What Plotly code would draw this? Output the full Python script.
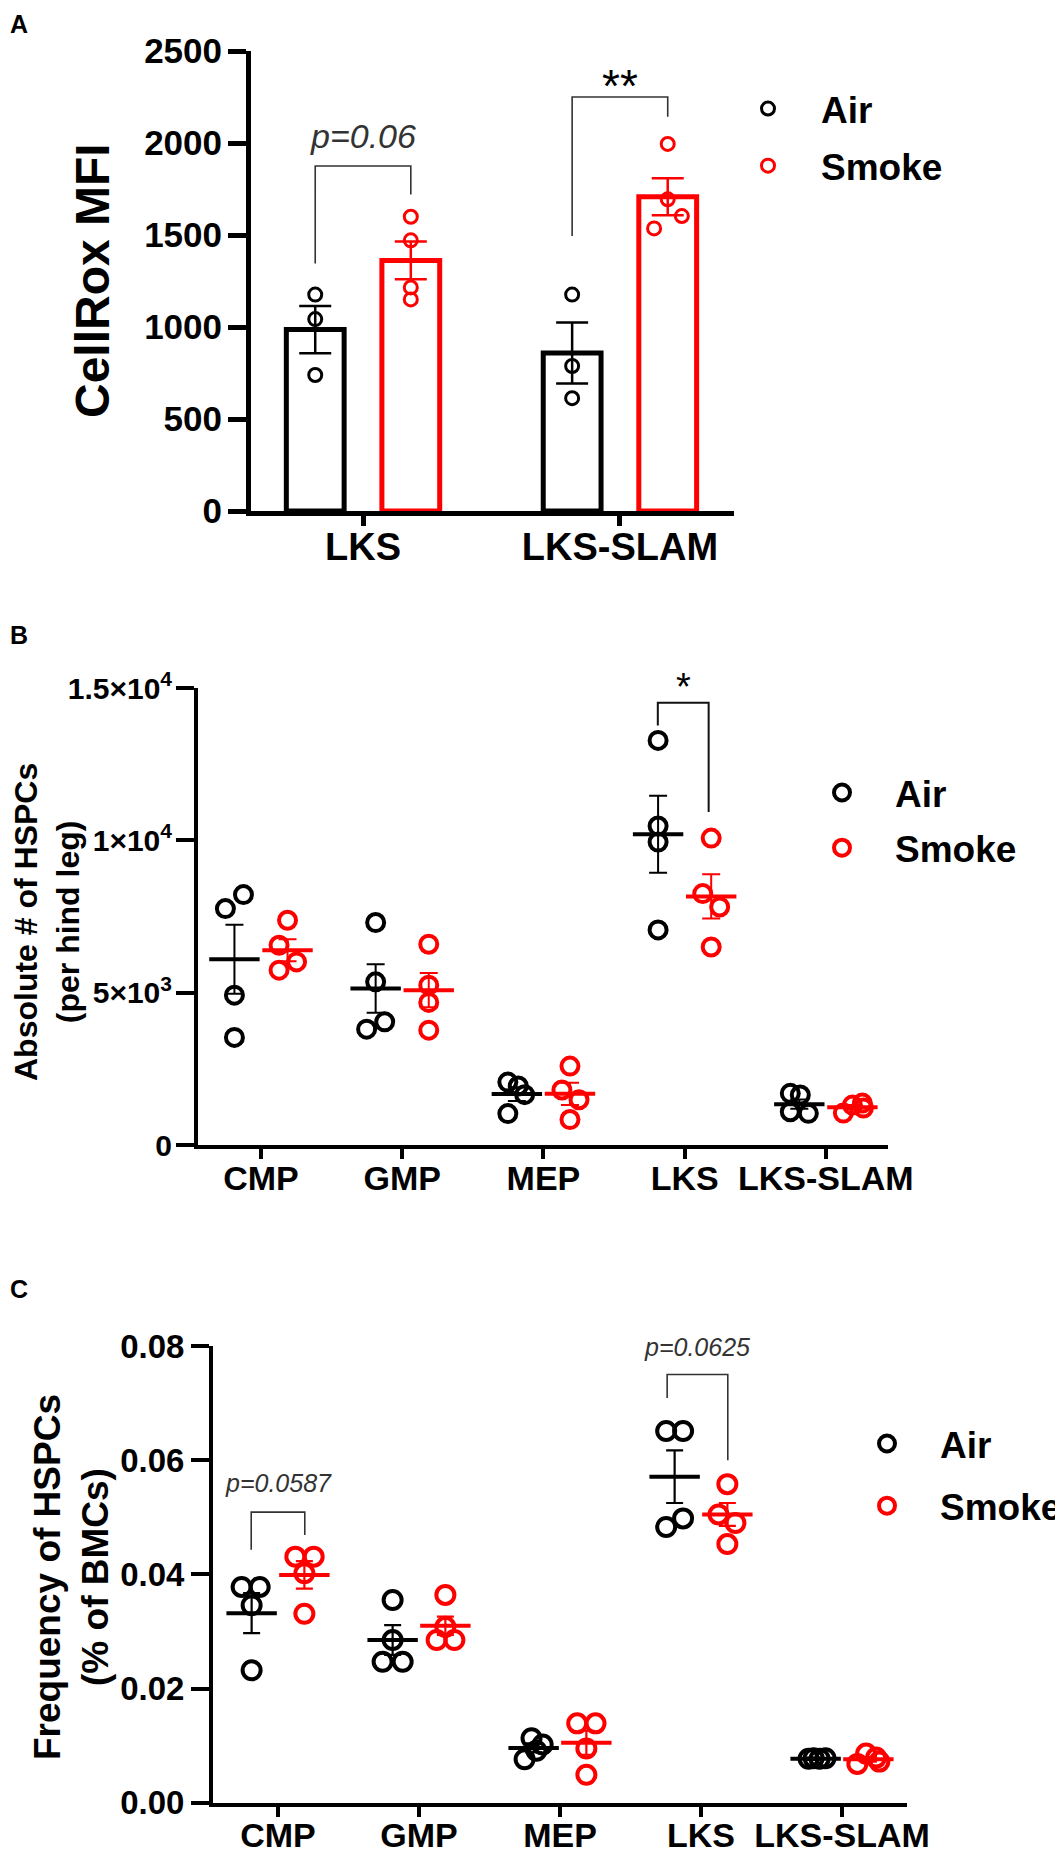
import plotly.graph_objects as go

W, H = 1063, 1850

# ---------------- data ----------------
A_cats = ["LKS", "LKS-SLAM"]
A_air_pts = [[1176, 1043, 739], [1176, 788, 613]]
A_smoke_pts = [[1599, 1471, 1215, 1150], [1995, 1694, 1603, 1536]]
A_air_mean = [986, 859]
A_air_sem = [128, 166]
A_smoke_mean = [1362, 1708]
A_smoke_sem = [102, 101]
A_ticks = [0, 500, 1000, 1500, 2000, 2500]

B_cats = ["CMP", "GMP", "MEP", "LKS", "LKS-SLAM"]
B_air_pts = [[8220, 7760, 4918, 3531], [7302, 5356, 3803, 4043],
             [2066, 1936, 1652, 1030], [13279, 10469, 9944, 7060],
             [1695, 1640, 1092, 1040]]
B_smoke_pts = [[7377, 6557, 6010, 5738], [6590, 5246, 4679, 3770],
               [2590, 1806, 1485, 836], [10075, 8252, 7813, 6500],
               [1377, 1311, 1213, 1049]]
B_air_mean = [6098, 5137, 1671, 10197, 1340]
B_air_sem = [1130, 795, 225, 1265, 150]
B_smoke_mean = [6393, 5082, 1679, 8160, 1240]
B_smoke_sem = [361, 560, 365, 725, 70]
B_tickvals = [0, 5000, 10000, 15000]
B_ticktext = ["0", "5×10<sup>3</sup>", "1×10<sup>4</sup>", "1.5×10<sup>4</sup>"]

C_cats = ["CMP", "GMP", "MEP", "LKS", "LKS-SLAM"]
C_air_pts = [[0.0378, 0.0378, 0.0346, 0.0232], [0.0355, 0.0285, 0.0247, 0.0247],
             [0.0113, 0.0102, 0.0091, 0.0076], [0.0651, 0.0651, 0.0483, 0.0498],
             [0.0077, 0.0078, 0.0077, 0.0078]]
C_smoke_pts = [[0.0431, 0.0431, 0.0402, 0.0331], [0.0364, 0.0308, 0.0285, 0.0285],
               [0.0139, 0.0139, 0.0095, 0.0049], [0.0558, 0.0505, 0.0490, 0.0453],
               [0.0068, 0.0086, 0.0079, 0.0072]]
C_air_mean = [0.0332, 0.0285, 0.0096, 0.0571, 0.0077]
C_air_sem = [0.0035, 0.0026, 0.0008, 0.0046, 0.0002]
C_smoke_mean = [0.0399, 0.0310, 0.0105, 0.0505, 0.0076]
C_smoke_sem = [0.0024, 0.0016, 0.0021, 0.0020, 0.0004]
C_ticks = [0.00, 0.02, 0.04, 0.06, 0.08]

# significance brackets: (category, left offset, right offset, left foot, top, right foot, label, label y)
A_brackets = [(0, -0.186, 0.186, 1345, 1875, 1720, "<i>p=0.06</i>", 2038),
              (1, -0.186, 0.186, 1495, 2250, 2143, "**", 2250)]
B_brackets = [(3, -0.19, 0.17, 13770, 14515, 10928, "*", 14515)]
C_brackets = [(0, -0.19, 0.19, 0.0443, 0.0509, 0.0469, "<i>p=0.0587</i>", 0.0560),
              (3, -0.24, 0.19, 0.0709, 0.0750, 0.0600, "<i>p=0.0625</i>", 0.0798)]

# ---------------- style ----------------
BLACK = "#000000"
RED = "#ff0000"
FONT = "Liberation Sans, Arial, sans-serif"
PAGE_OFF = 8  # the page body margin shifts the figure by this many px

# within-column jitter (category units) of the individual dots
A_air_jit = [[0, 0, 0], [0, 0, 0]]
A_smoke_jit = [[0, 0, 0, 0], [0, 0, 0.055, -0.053]]
B_air_jit = [[0.064, -0.064, 0, 0], [0, 0, -0.064, 0.064], [-0.064, 0.01, 0.055, -0.064],
             [0, 0, 0, 0], [-0.064, 0.007, -0.064, 0.064]]
B_smoke_jit = [[0, -0.06, 0.064, -0.06], [0, 0, 0, 0], [0, -0.057, 0.064, 0],
               [0, -0.06, 0.06, 0], [0.07, 0, 0.078, -0.064]]
C_air_jit = [[-0.071, 0.057, 0, 0], [0, 0, -0.071, 0.071], [-0.015, 0.064, 0.02, -0.064],
             [-0.06, 0.06, -0.06, 0.06], [-0.05, -0.014, 0.028, 0.07]]
C_smoke_jit = [[-0.064, 0.066, 0, 0], [0, 0, -0.062, 0.064], [-0.065, 0.065, 0, 0],
               [0, -0.063, 0.057, 0], [-0.078, -0.016, 0.055, 0.078]]


def fx(px):
    return max(0.0, (px - PAGE_OFF) / W)


def fy(py):
    return min(1.0, 1 - (py - PAGE_OFF) / H)


fig = go.Figure()


def dots(pts, jit, off):
    xs, ys = [], []
    for i, (vals, js) in enumerate(zip(pts, jit)):
        for v, j in zip(vals, js):
            xs.append(i + off + j)
            ys.append(v)
    return xs, ys


# ---------- Panel A (bars) ----------
A_off = 0.186
for name, color, pts, jit, mean, sem, off in [
        ("Air", BLACK, A_air_pts, A_air_jit, A_air_mean, A_air_sem, -A_off),
        ("Smoke", RED, A_smoke_pts, A_smoke_jit, A_smoke_mean, A_smoke_sem, A_off)]:
    fig.add_trace(go.Bar(
        x=[i + off for i in range(len(A_cats))], y=mean, width=0.225,
        marker=dict(color="white", line=dict(color=color, width=5)),
        error_y=dict(type="data", array=sem, color=color, thickness=2.5, width=16),
        showlegend=False, hoverinfo="skip", xaxis="x", yaxis="y"))
for name, color, pts, jit, off in [
        ("Air", BLACK, A_air_pts, A_air_jit, -A_off),
        ("Smoke", RED, A_smoke_pts, A_smoke_jit, A_off)]:
    xs, ys = dots(pts, jit, off)
    fig.add_trace(go.Scatter(
        x=xs, y=ys, mode="markers", name=name, legendgroup=name, legend="legend",
        marker=dict(symbol="circle-open", size=13, color=color, line=dict(color=color, width=3)),
        xaxis="x", yaxis="y", cliponaxis=False))


# ---------- Panels B and C (dot plots) ----------
def dot_panel(xa, ya, legend, cats, air_pts, smoke_pts, air_jit, smoke_jit,
              air_mean, air_sem, smoke_mean, smoke_sem, off, msize, elw, ecap):
    for name, color, pts, jit, mean, sem, o in [
            ("Air", BLACK, air_pts, air_jit, air_mean, air_sem, -off),
            ("Smoke", RED, smoke_pts, smoke_jit, smoke_mean, smoke_sem, off)]:
        xs, ys = dots(pts, jit, o)
        fig.add_trace(go.Scatter(
            x=xs, y=ys, mode="markers", name=name, legendgroup=name, legend=legend,
            marker=dict(symbol="circle-open", size=msize, color=color,
                        line=dict(color=color, width=4)),
            xaxis=xa, yaxis=ya, cliponaxis=False))
        fig.add_trace(go.Scatter(
            x=[i + o for i in range(len(cats))], y=mean, mode="markers",
            marker=dict(symbol="line-ew", size=36, color=color, line=dict(color=color, width=4)),
            error_y=dict(type="data", array=sem, color=color, thickness=elw, width=ecap),
            showlegend=False, hoverinfo="skip", xaxis=xa, yaxis=ya, cliponaxis=False))


dot_panel("x2", "y2", "legend2", B_cats, B_air_pts, B_smoke_pts, B_air_jit, B_smoke_jit,
          B_air_mean, B_air_sem, B_smoke_mean, B_smoke_sem, 0.188, 17, 2, 9)
dot_panel("x3", "y3", "legend3", C_cats, C_air_pts, C_smoke_pts, C_air_jit, C_smoke_jit,
          C_air_mean, C_air_sem, C_smoke_mean, C_smoke_sem, 0.187, 18, 2.2, 8.5)

# ---------- brackets & significance labels ----------
annotations = []


def brackets(items, xa, ya, lw, lcolor, fsize, star_size, star_shift):
    for cat, lo, ro, yl, yt, yr, label, ylab in items:
        fig.add_trace(go.Scatter(
            x=[cat + lo, cat + lo, cat + ro, cat + ro], y=[yl, yt, yt, yr],
            mode="lines", line=dict(color=lcolor, width=lw), showlegend=False,
            hoverinfo="skip", xaxis=xa, yaxis=ya, cliponaxis=False))
        is_star = "*" in label
        annotations.append(dict(
            x=cat + (lo + ro) / 2, y=ylab, xref=xa, yref=ya, text=label, showarrow=False,
            xanchor="center", yanchor="middle", yshift=star_shift if is_star else 0,
            font=dict(family=FONT, size=star_size if is_star else fsize,
                      color=BLACK if is_star else lcolor)))


brackets(A_brackets, "x", "y", 1.6, "#333333", 34, 46, 11)
brackets(B_brackets, "x2", "y2", 2, "#111111", 28, 38, 16)
brackets(C_brackets, "x3", "y3", 1.6, "#333333", 25, 38, 10)

# ---------- titles and panel letters ----------
letter_font = dict(family=FONT, size=25, weight="bold", color=BLACK)
annotations += [
    dict(x=0, y=1, xref="paper", yref="paper", text="A", showarrow=False,
         xanchor="left", yanchor="top", font=letter_font),
    dict(x=0, y=fy(635), xref="paper", yref="paper", text="B", showarrow=False,
         xanchor="left", yanchor="middle", font=letter_font),
    dict(x=0, y=fy(1289), xref="paper", yref="paper", text="C", showarrow=False,
         xanchor="left", yanchor="middle", font=letter_font),
    dict(x=fx(92), y=fy(281), xref="paper", yref="paper", text="CellRox MFI", showarrow=False,
         textangle=-90, xanchor="center", yanchor="middle",
         font=dict(family=FONT, size=48, weight="bold", color=BLACK)),
    dict(x=fx(47), y=fy(922), xref="paper", yref="paper",
         text="Absolute # of HSPCs<br>(per hind leg)", showarrow=False,
         textangle=-90, xanchor="center", yanchor="middle",
         font=dict(family=FONT, size=32, weight="bold", color=BLACK)),
    dict(x=fx(71), y=fy(1577), xref="paper", yref="paper",
         text="Frequency of HSPCs<br>(% of BMCs)", showarrow=False,
         textangle=-90, xanchor="center", yanchor="middle",
         font=dict(family=FONT, size=37, weight="bold", color=BLACK)),
]


# ---------- axes ----------
def yax(domain, rng, tickvals, ticktext, lw, fsize, standoff):
    return dict(domain=domain, range=rng, tickvals=tickvals, ticktext=ticktext,
                showgrid=False, zeroline=False, showline=True, linecolor=BLACK, linewidth=lw,
                ticks="outside", ticklen=18, tickwidth=lw, tickcolor=BLACK,
                ticklabelstandoff=standoff, fixedrange=True, automargin=False,
                tickfont=dict(family=FONT, size=fsize, color=BLACK, weight="bold"))


def xax(domain, rng, cats, anchor, lw, fsize, standoff):
    return dict(domain=domain, range=rng, tickvals=list(range(len(cats))), ticktext=cats,
                anchor=anchor, showgrid=False, zeroline=False, showline=True, linecolor=BLACK,
                linewidth=lw, ticks="outside", ticklen=10, tickwidth=lw, tickcolor=BLACK,
                ticklabelstandoff=standoff, fixedrange=True, automargin=False,
                tickfont=dict(family=FONT, size=fsize, color=BLACK, weight="bold"))


legend_font = dict(family=FONT, size=37, color=BLACK, weight="bold")


def legend_at(cx, cy, gap):
    return dict(x=fx(cx - 53), y=fy(cy - 29), xanchor="left", yanchor="top",
                bgcolor="rgba(0,0,0,0)", borderwidth=0, itemwidth=96,
                tracegroupgap=gap, traceorder="grouped", font=legend_font)


fig.update_layout(
    width=W, height=H, autosize=False,
    margin=dict(l=0, r=0, t=0, b=0, pad=0, autoexpand=False),
    paper_bgcolor="white", plot_bgcolor="white",
    barmode="overlay",
    xaxis=xax([fx(251), fx(734)], [-0.436, 1.444], A_cats, "y", 5, 38, -12),
    yaxis=yax([fy(511), fy(51)], [0, 2500], A_ticks, [str(t) for t in A_ticks], 5, 35, -1),
    xaxis2=xax([fx(198), fx(888)], [-0.446, 4.44], B_cats, "y2", 4, 34, -10),
    yaxis2=yax([fy(1145), fy(688)], [0, 15000], B_tickvals, B_ticktext, 4, 30, -2),
    xaxis3=xax([fx(213), fx(907)], [-0.461, 4.461], C_cats, "y3", 4, 34, -11),
    yaxis3=yax([fy(1802.7), fy(1346)], [0, 0.08], C_ticks, [f"{t:.2f}" for t in C_ticks], 4, 33, 0),
    legend=legend_at(768, 107, 6),
    legend2=legend_at(842, 791, 4),
    legend3=legend_at(887, 1442, 11),
    annotations=annotations,
    showlegend=True,
)
fig.layout.yaxis.anchor = "x"
fig.layout.yaxis2.anchor = "x2"
fig.layout.yaxis3.anchor = "x3"

fig.write_html("out.html")
